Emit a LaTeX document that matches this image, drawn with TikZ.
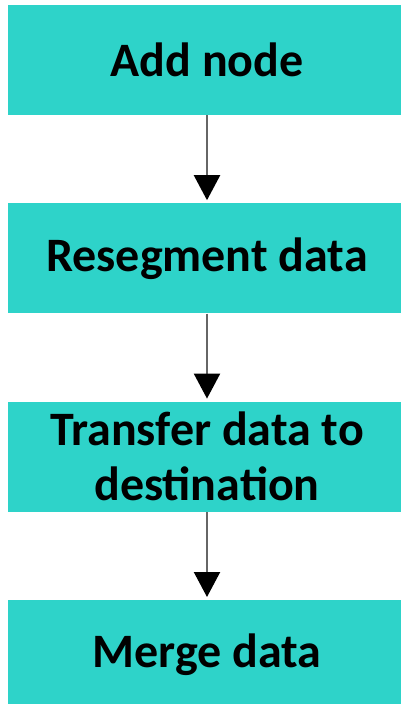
\documentclass[tikz,border=0pt]{standalone}
\usepackage{fontspec}
\setmainfont{Carlito}
\usetikzlibrary{positioning,arrows.meta}
\definecolor{boxteal}{RGB}{46,211,201}
\begin{document}
\begin{tikzpicture}[x=1pt,y=1pt,node distance=88pt,
    stage/.style={fill=boxteal,minimum width=398pt,minimum height=110pt,inner sep=0pt,
      align=center,font=\fontsize{48}{55}\selectfont\bfseries},
    flow/.style={draw=black!60,line width=2.2pt,-{Triangle[width=26pt,length=25pt,black]},shorten >=3pt}]
            \useasboundingbox (0,0) rectangle (400,-704);
            \node[stage] (add) at (207,-60) {Add node};
            \node[stage,below=of add] (reseg) {Resegment data};
            \node[stage,below=of reseg] (transfer) {Transfer data to\\destination};
            \node[stage,below=of transfer] (merge) {Merge data};
            \draw[flow] (add) -- (reseg);
            \draw[flow] (reseg) -- (transfer);
            \draw[flow] (transfer) -- (merge);
        \end{tikzpicture}
\end{document}
